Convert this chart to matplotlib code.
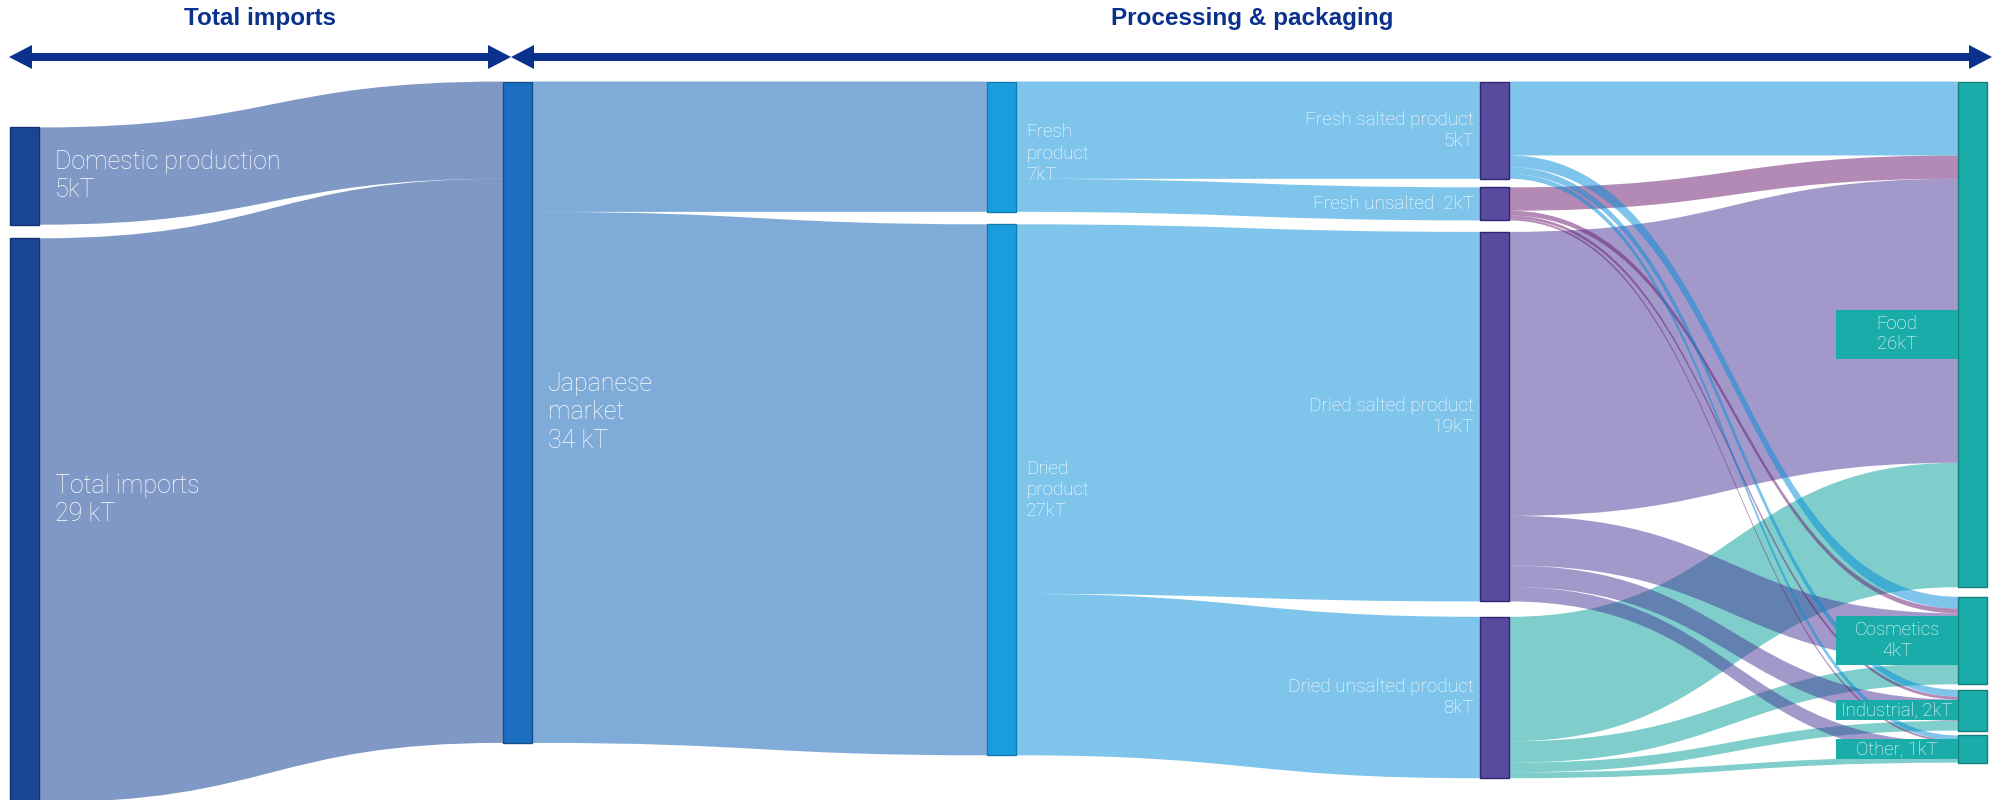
import matplotlib
matplotlib.use('Agg')
import matplotlib.pyplot as plt
from matplotlib.path import Path
from matplotlib.patches import PathPatch, Rectangle, Polygon

# ---- data (kT) ----
node_names = ['Domestic production', 'Total imports', 'Japanese market',
              'Fresh product', 'Dried product',
              'Fresh salted product', 'Fresh unsalted', 'Dried salted product', 'Dried unsalted product',
              'Food', 'Cosmetics', 'Industrial', 'Other']
node_cols = [0, 0, 1, 2, 2, 3, 3, 3, 3, 4, 4, 4, 4]
node_labels = ['Domestic production\n5kT', 'Total imports\n29 kT', 'Japanese\nmarket\n34 kT',
               'Fresh\nproduct\n7kT', 'Dried\nproduct\n27kT',
               'Fresh salted product\n5kT', 'Fresh unsalted  2kT',
               'Dried salted product\n19kT', 'Dried unsalted product\n8kT',
               'Food\n26kT', 'Cosmetics\n4kT', 'Industrial, 2kT', 'Other, 1kT']

flow_src = [0, 1, 2, 2, 3, 3, 4, 4,
            5, 5, 5, 5,
            6, 6, 6, 6,
            7, 7, 7, 7,
            8, 8, 8, 8]
flow_dst = [2, 2, 3, 4, 5, 6, 7, 8,
            9, 10, 11, 12,
            9, 10, 11, 12,
            9, 10, 11, 12,
            9, 10, 11, 12]
flow_val = [5.0, 29.0, 6.7, 27.3, 5.0, 1.7, 19.0, 8.3,
            3.8, 0.6, 0.35, 0.25,
            1.2, 0.25, 0.15, 0.1,
            14.6, 2.55, 1.1, 0.75,
            6.4, 1.1, 0.5, 0.3]

header_texts = ['Total imports', 'Processing & packaging']

# ---- style / layout ----
node_colors = ['#1b4596', '#1b4596', '#1c6ec0', '#1a9ddf', '#1a9ddf',
               '#5a4a9f', '#5a4a9f', '#5a4a9f', '#5a4a9f',
               '#1aaca9', '#1aaca9', '#1aaca9', '#1aaca9']
node_edges = ['#12316e', '#12316e', '#14508c', '#137aae',
              '#137aae', '#2f2670', '#2f2670', '#2f2670', '#2f2670',
              '#127f7c', '#127f7c', '#127f7c', '#127f7c']
link_colors = ['#01338d', '#01338d', '#0159b3', '#018dd9', '#018dd9',
               '#018dd9', '#69176d', '#473597', '#019f9b']
col_x = [10, 503, 987, 1480, 1958]
node_w = 29
col_start = [2.36, 0, 0, 0, 0]
col_gaps = [[0.7], [], [0.64], [0.44, 0.59, 0.79], [0.49, 0.28, 0.25]]
label_nudge = {1: -1.05, 3: 0.35}
HEAD_COLOR = '#0b318f'
TEXT_FONT = ['Roboto', 'DejaVu Sans']
HEAD_FONT = ['Liberation Sans', 'DejaVu Sans']

n = len(node_names)
inflow = [0.0] * n
outflow = [0.0] * n
for s, d, v in zip(flow_src, flow_dst, flow_val):
    outflow[s] += v
    inflow[d] += v
node_val = [max(a, b) for a, b in zip(inflow, outflow)]

node_top = [0.0] * n
for c in range(len(col_x)):
    ids = [i for i in range(n) if node_cols[i] == c]
    y = col_start[c]
    for k, i in enumerate(ids):
        if k > 0:
            y += col_gaps[c][k - 1]
        node_top[i] = y
        y += node_val[i]

PX_PER_KT = 19.45
TOP_KT = -81.55 / PX_PER_KT

fig = plt.figure(figsize=(19.98, 8), dpi=100)
ax = fig.add_axes([0, 0, 1, 1])
ax.set_xlim(0, 1998)
ax.set_ylim(TOP_KT + 800 / PX_PER_KT, TOP_KT)
ax.axis('off')

# ribbons
out_off = node_top[:]
in_off = node_top[:]
ribbons = []
codes = [Path.MOVETO, Path.CURVE4, Path.CURVE4, Path.CURVE4, Path.LINETO,
         Path.CURVE4, Path.CURVE4, Path.CURVE4, Path.CLOSEPOLY]
for s, d, v in zip(flow_src, flow_dst, flow_val):
    ys = out_off[s]
    out_off[s] += v
    yt = in_off[d]
    in_off[d] += v
    x0 = col_x[node_cols[s]] + node_w
    x1 = col_x[node_cols[d]]
    xm = (x0 + x1) / 2
    verts = [(x0, ys), (xm, ys), (xm, yt), (x1, yt),
             (x1, yt + v), (xm, yt + v), (xm, ys + v), (x0, ys + v), (x0, ys)]
    ribbons.append(PathPatch(Path(verts, codes), fc=link_colors[s], ec='none', alpha=0.5, zorder=1))
# upper sources drawn last (on top)
for p in reversed(ribbons):
    ax.add_patch(p)

# nodes + labels
for i in range(n):
    c = node_cols[i]
    ax.add_patch(Rectangle((col_x[c], node_top[i]), node_w, node_val[i],
                           fc=node_colors[i], ec=node_edges[i], lw=1, zorder=3))
    yc = node_top[i] + node_val[i] / 2 + label_nudge.get(i, 0)
    if c in (0, 1):
        ax.text(col_x[c] + node_w + 16, yc, node_labels[i], color='white', fontsize=18,
                family=TEXT_FONT, fontweight='light', ha='left', va='center', linespacing=1.24, zorder=4)
    elif c == 2:
        ax.text(col_x[c] + node_w + 10, yc, node_labels[i], color='white', fontsize=13.5,
                family=TEXT_FONT, fontweight='light', ha='left', va='center', linespacing=1.22, zorder=4)
    elif c == 3:
        ax.text(col_x[c] - 6, yc, node_labels[i], color='white', fontsize=13.7,
                family=TEXT_FONT, fontweight='light', ha='right', va='center', linespacing=1.22, zorder=4)
    else:
        nl = node_labels[i].count('\n') + 1
        bh = 1.47 * nl - 0.42
        bw = 122
        ax.add_patch(Rectangle((col_x[c] - bw, yc - bh / 2), bw, bh, fc=node_colors[i], ec='none', zorder=3))
        ax.text(col_x[c] - bw / 2, yc, node_labels[i], color='white', fontsize=13.3,
                family=TEXT_FONT, fontweight='light', ha='center', va='center', linespacing=1.15, zorder=4)

# header (pixel overlay)
hx = fig.add_axes([0, 0, 1, 1], facecolor='none')
hx.set_xlim(0, 1998)
hx.set_ylim(800, 0)
hx.axis('off')


def double_arrow(xa, xb, y, t=4, L=23, H=12):
    pts = [(xa, y), (xa + L, y - H), (xa + L, y - t), (xb - L, y - t), (xb - L, y - H),
           (xb, y), (xb - L, y + H), (xb - L, y + t), (xa + L, y + t), (xa + L, y + H)]
    hx.add_patch(Polygon(pts, closed=True, fc=HEAD_COLOR, ec='none'))


double_arrow(9, 511, 57)
double_arrow(511, 1992, 57)
hx.text(260, 19, header_texts[0], color=HEAD_COLOR, fontsize=17.5, fontweight='bold',
        family=HEAD_FONT, ha='center', va='center')
hx.text(1252, 19, header_texts[1], color=HEAD_COLOR, fontsize=17.5, fontweight='bold',
        family=HEAD_FONT, ha='center', va='center')

fig.savefig('out.png', dpi=100)
